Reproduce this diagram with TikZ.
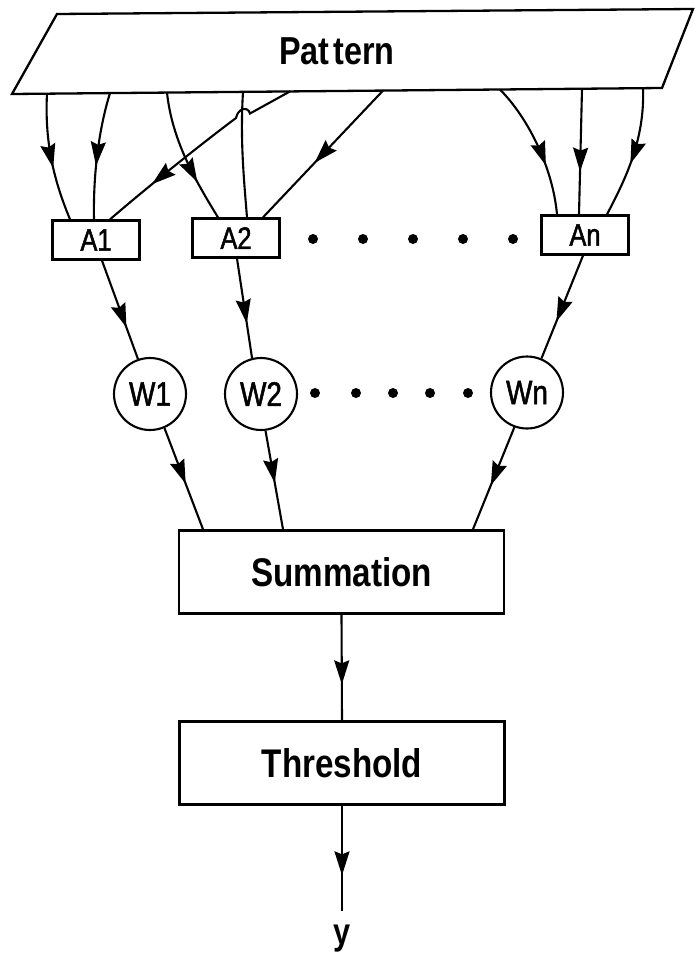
\documentclass[tikz,border=0pt]{standalone}
\usepackage{fontspec}
\setmainfont{Liberation Sans}[FakeStretch=0.83]
\newfontfamily\medf{Liberation Sans}[FakeStretch=0.82,FakeBold=1.5]
\usetikzlibrary{arrows.meta,decorations.markings}
\tikzset{
  conn/.style={line width=2.1pt},
  midarrow/.style={postaction={decorate},decoration={markings,mark=at position #1 with {\arrow{Stealth[length=24pt,width=15pt,inset=3pt]}}}},
  abox/.style={draw,line width=2.3pt,minimum width=87pt,minimum height=39pt,inner sep=0pt,font=\medf\fontsize{31}{31}\selectfont},
  wcirc/.style={draw,circle,line width=2.1pt,minimum size=72pt,inner sep=0pt,font=\medf\fontsize{34}{34}\selectfont},
  bigbox/.style={draw,line width=2.5pt,minimum width=325pt,minimum height=83pt,inner sep=0pt,font=\bfseries\fontsize{40}{40}\selectfont},
  dotm/.style={circle,fill,inner sep=0pt,minimum size=10pt},
}
\begin{document}
\begin{tikzpicture}[x=1pt,y=-1pt]
\useasboundingbox (0,0) rectangle (694,953);
% Pattern parallelogram
\draw[line width=2.3pt,line join=miter] (57,14) -- (693,9) -- (662,88) -- (12,94) -- cycle;
\node[font=\bfseries\fontsize{39}{39}\selectfont] (pat) at (337,51) {Pat\kern4pt tern};
\coordinate (p1) at (47,93.7);
\coordinate (p2) at (110,93.1);
\coordinate (p3) at (290,91.4);
\coordinate (p4) at (167,92.6);
\coordinate (p5) at (243,91.9);
\coordinate (p6) at (383,90.6);
\coordinate (p7) at (500,89.5);
\coordinate (p8) at (582,88.7);
\coordinate (p9) at (643,88.2);
% A boxes
\node[abox] (a1) at (96,240) {A1};
\node[abox] (a2) at (236,238) {A2};
\node[abox] (an) at (585,235) {An};
% W circles
\node[wcirc] (w1) at (150,394) {W1};
\node[wcirc] (w2) at (261,394) {W2};
\node[wcirc] (wn) at (527,392.5) {Wn};
% Summation, Threshold, output
\node[bigbox] (sum) at (341.5,572) {Summation};
\node[bigbox] (thr) at (342,763) {Threshold};
\node[font=\bfseries\fontsize{37}{37}\selectfont,inner sep=3pt] (yout) at (342,939) {y};
% dots
\foreach \x [count=\i] in {313,363,413,463,513} \node[dotm] (da\i) at (\x,239) {};
\foreach \x [count=\i] in {315,356,393,430,468} \node[dotm] (dw\i) at (\x,393) {};
% Pattern -> A1
\draw[conn,midarrow=0.58] (p1) .. controls (44,150) and (58,190) .. ([xshift=-26pt]a1.north);
\draw[conn,midarrow=0.58] (p2) .. controls (100,125) and (93,170) .. ([xshift=-2pt]a1.north);
\draw[conn,midarrow=0.76] (p3) -- (250,113.5) .. controls (248,106) and (238,108) .. (236,118)
   .. controls (200,145) and (150,185) .. ([xshift=14pt]a1.north);
% Pattern -> A2
\draw[conn,midarrow=0.7] (p4) .. controls (172,140) and (195,180) .. ([xshift=-18pt]a2.north);
\draw[conn] (p5) .. controls (240,140) and (244,180) .. ([xshift=11pt]a2.north);
\draw[conn,midarrow=0.57] (p6) -- ([xshift=27pt]a2.north);
% Pattern -> An
\draw[conn,midarrow=0.64] (p7) .. controls (530,120) and (553,170) .. ([xshift=-28pt]an.north);
\draw[conn,midarrow=0.66] (p8) -- ([xshift=-6pt]an.north);
\draw[conn,midarrow=0.58] (p9) .. controls (645,140) and (625,180) .. ([xshift=22pt]an.north);
% A -> W
\draw[conn,midarrow=0.68] ([xshift=6pt]a1.south) -- (w1.109);
\draw[conn,midarrow=0.65] ([xshift=1pt]a2.south) -- (w2.104);
\draw[conn,midarrow=0.64] ([xshift=-2pt]an.south) -- (wn.67);
% W -> Summation
\draw[conn,midarrow=0.55] (w1.-67) -- ([xshift=-138.5pt]sum.north);
\draw[conn,midarrow=0.53] (w2.-83.5) -- ([xshift=-58.5pt]sum.north);
\draw[conn,midarrow=0.57] (wn.250) -- ([xshift=131.5pt]sum.north);
% Summation -> Threshold -> y
\draw[conn,midarrow=0.66] (sum.south) -- (thr.north);
\draw[conn,midarrow=0.66] (thr.south) -- ([yshift=11pt]yout.north);
\end{tikzpicture}
\end{document}
